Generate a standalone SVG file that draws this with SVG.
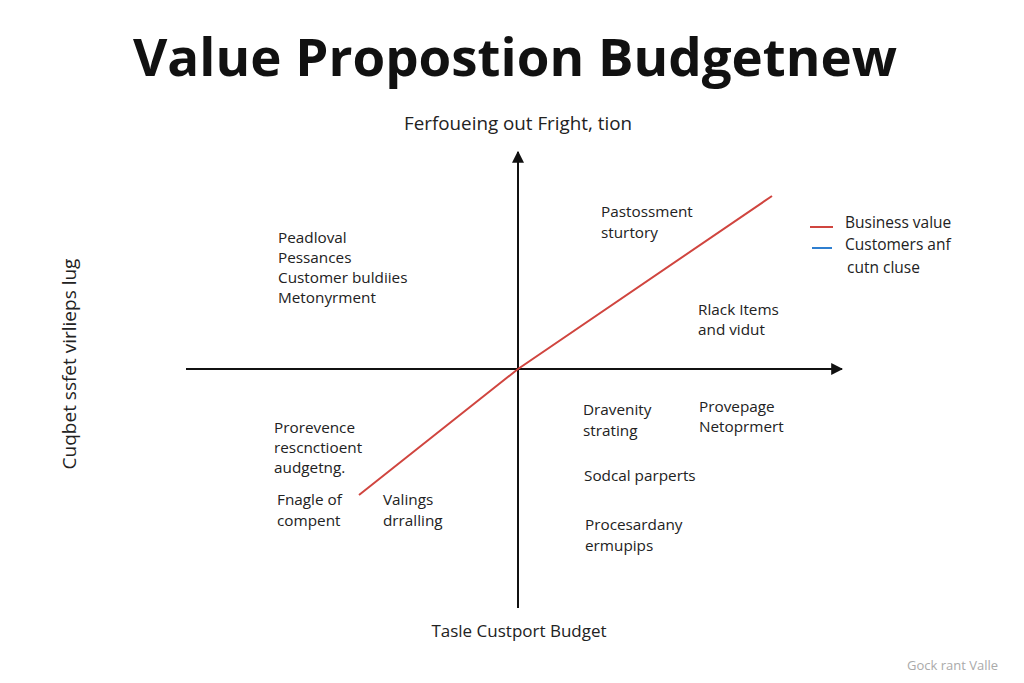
<svg xmlns="http://www.w3.org/2000/svg" width="1024" height="683" viewBox="0 0 1024 683">
<defs>
<style>
.t{font-family:"Open Sans","Liberation Sans",sans-serif;font-size:15.3px;fill:#222}
.ax{font-family:"Open Sans","Liberation Sans",sans-serif;font-size:17px;fill:#222}
.lg{font-family:"Open Sans","Liberation Sans",sans-serif;font-size:15.5px;fill:#222}
.axis{stroke:#111;stroke-width:2;fill:none}
</style>
<marker id="ah" viewBox="0 0 10 10" refX="9" refY="5" markerWidth="6" markerHeight="6" orient="auto-start-reverse" markerUnits="strokeWidth">
<path d="M0,0 L10,5 L0,10 z" fill="#111"/>
</marker>
</defs>
<rect width="1024" height="683" fill="#ffffff"/>
<g id="title">
<text x="515" y="76" text-anchor="middle" textLength="764" lengthAdjust="spacingAndGlyphs" style="font-family:'Open Sans','Liberation Sans',sans-serif;font-size:52px;font-weight:bold;fill:#111">Value Propostion Budgetnew</text>
</g>
<g id="connectors">
<line class="axis" x1="518" y1="608" x2="518" y2="152" marker-end="url(#ah)"/>
<line class="axis" x1="186" y1="369" x2="842" y2="369" marker-end="url(#ah)"/>
<polyline points="359,495 518,369 772,196" fill="none" stroke="#d0453f" stroke-width="2"/>
</g>
<g id="axis-labels">
<text class="ax" x="518" y="130" text-anchor="middle" textLength="228" lengthAdjust="spacingAndGlyphs" style="font-size:18.5px">Ferfoueing out Fright, tion</text>
<text class="ax" x="519" y="637" text-anchor="middle">Tasle Custport Budget</text>
<text class="ax" transform="translate(76,364) rotate(-90)" text-anchor="middle" style="font-size:19px">Cuqbet ssfet virlieps lug</text>
</g>
<g id="legend">
<line x1="810" y1="227" x2="833" y2="227" stroke="#d0453f" stroke-width="2"/>
<line x1="812" y1="248" x2="832" y2="248" stroke="#2f7fd0" stroke-width="2"/>
<text class="lg" x="845" y="228">Business value</text>
<text class="lg" x="845" y="250">Customers anf</text>
<text class="lg" x="847" y="273">cutn cluse</text>
</g>
<g id="node-tl">
<text class="t" x="278" y="243">Peadloval</text>
<text class="t" x="278" y="263">Pessances</text>
<text class="t" x="278" y="283">Customer buldiies</text>
<text class="t" x="278" y="303">Metonyrment</text>
</g>
<g id="node-tr1">
<text class="t" x="601" y="217">Pastossment</text>
<text class="t" x="601" y="238">sturtory</text>
</g>
<g id="node-tr2">
<text class="t" x="698" y="315">Rlack Items</text>
<text class="t" x="698" y="335">and vidut</text>
</g>
<g id="node-bl1">
<text class="t" x="274" y="433">Prorevence</text>
<text class="t" x="274" y="453">rescnctioent</text>
<text class="t" x="274" y="473">audgetng.</text>
</g>
<g id="node-bl2">
<text class="t" x="277" y="505">Fnagle of</text>
<text class="t" x="277" y="526">compent</text>
</g>
<g id="node-bl3">
<text class="t" x="383" y="505">Valings</text>
<text class="t" x="383" y="526">drralling</text>
</g>
<g id="node-br1">
<text class="t" x="583" y="415">Dravenity</text>
<text class="t" x="583" y="436">strating</text>
</g>
<g id="node-br2">
<text class="t" x="699" y="412">Provepage</text>
<text class="t" x="699" y="432">Netoprmert</text>
</g>
<g id="node-br3">
<text class="t" x="584" y="481">Sodcal parperts</text>
</g>
<g id="node-br4">
<text class="t" x="585" y="530">Procesardany</text>
<text class="t" x="585" y="551">ermupips</text>
</g>
<g id="footer">
<text x="907" y="670" style="font-family:'Open Sans','Liberation Sans',sans-serif;font-size:13px;fill:#aaa">Gock rant Valle</text>
</g>
</svg>
